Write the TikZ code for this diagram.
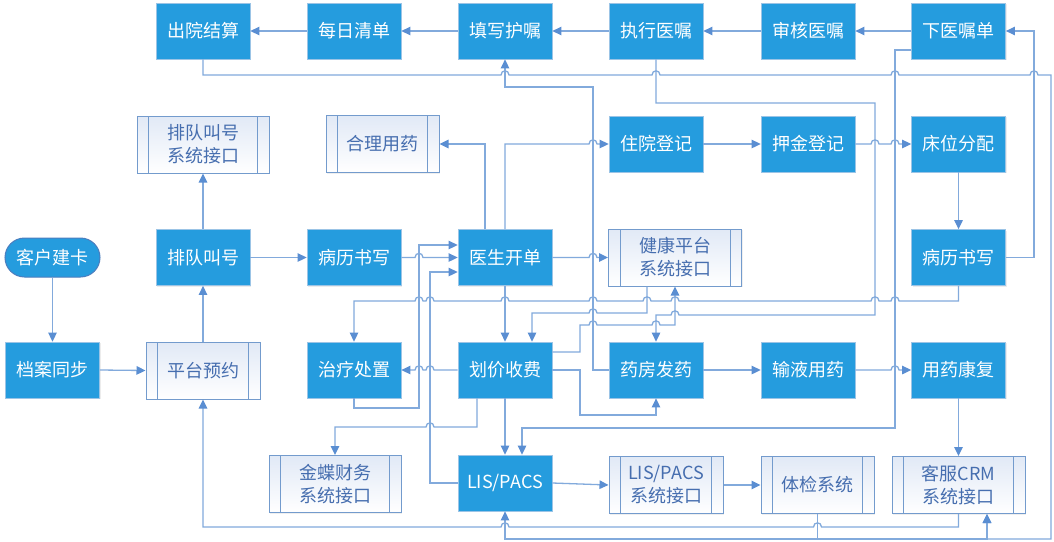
\documentclass[tikz,border=0pt]{standalone}
\usepackage{fontspec}
\newfontfamily\cn{Noto Sans CJK SC}
\usetikzlibrary{arrows.meta,shadows}
\definecolor{boxblue}{RGB}{37,156,222}
\definecolor{boxedge}{RGB}{155,196,230}
\definecolor{linec}{RGB}{130,170,220}
\definecolor{arrc}{RGB}{90,142,210}
\definecolor{subedge}{RGB}{115,155,205}
\definecolor{subtext}{RGB}{70,110,175}
\definecolor{subtop}{RGB}{225,233,246}
\definecolor{pilledge}{RGB}{75,125,190}
% horizontal line hops (rightward / leftward)
\newcommand\hr[2]{-- ({#1-4},#2) .. controls ({#1-4},{#2-5.5}) and ({#1+4},{#2-5.5}) .. ({#1+4},#2)}
\newcommand\hl[2]{-- ({#1+4},#2) .. controls ({#1+4},{#2-5.5}) and ({#1-4},{#2-5.5}) .. ({#1-4},#2)}
\tikzset{
 base/.style={font=\cn\fontsize{18}{23}\selectfont, align=center, inner sep=0pt},
 bbox/.style={base, rectangle, fill=boxblue, draw=boxedge, line width=0.8pt, text=white,
   minimum width=94pt, minimum height=56pt,
   drop shadow={opacity=0.15,shadow xshift=1pt,shadow yshift=-1pt}},
 sbox/.style={base, rectangle, draw=subedge, line width=1pt, text=subtext,
   top color=subtop, bottom color=white, minimum height=57pt, minimum width=#1,
   drop shadow={opacity=0.12,shadow xshift=1pt,shadow yshift=-1pt},
   path picture={\draw[subedge, line width=1pt]
     ([xshift=11.5pt]path picture bounding box.north west) -- ([xshift=11.5pt]path picture bounding box.south west)
     ([xshift=-11.5pt]path picture bounding box.north east) -- ([xshift=-11.5pt]path picture bounding box.south east);}},
 pill/.style={base, rectangle, rounded corners=19.5pt, fill=boxblue, draw=pilledge, line width=1pt,
   text=white, minimum width=95pt, minimum height=39pt},
 conn/.style={draw=linec, line width=1.3pt, -{Triangle[length=9pt,width=8.5pt,color=arrc]}},
}
\begin{document}
\begin{tikzpicture}[x=1pt,y=-1pt]
\fill[white] (0,0) rectangle (1054,541);
\useasboundingbox (0,0) rectangle (1054,541);
% row 1
\node[bbox] (cy) at (203,31) {出院结算};
\node[bbox] (mr) at (354,31) {每日清单};
\node[bbox] (tx) at (505,31) {填写护嘱};
\node[bbox] (zx) at (656,31) {执行医嘱};
\node[bbox] (sh) at (808,31) {审核医嘱};
\node[bbox] (xy) at (958.5,31) {下医嘱单};
% row 2
\node[sbox=132pt] (pdjk) at (203,144.5) {排队叫号\\系统接口};
\node[sbox=113pt] (hlyy) at (382.5,144) {合理用药};
\node[bbox] (zy) at (656,144) {住院登记};
\node[bbox] (yj) at (808,144) {押金登记};
\node[bbox] (cw) at (958.5,144) {床位分配};
% row 3
\node[pill] (khjk) at (52.5,257.5) {客户建卡};
\node[bbox] (pd) at (203,257.5) {排队叫号};
\node[bbox] (bl1) at (354,257.5) {病历书写};
\node[bbox] (ys) at (505,257.5) {医生开单};
\node[sbox=133pt] (jk) at (675,257.5) {健康平台\\系统接口};
\node[bbox] (bl2) at (958.5,257.5) {病历书写};
% row 4
\node[bbox] (da) at (52.5,370) {档案同步};
\node[sbox=114pt] (ptyy) at (203,370.5) {平台预约};
\node[bbox] (zl) at (354,370) {治疗处置};
\node[bbox] (hj) at (505,370) {划价收费};
\node[bbox] (yf) at (656,370) {药房发药};
\node[bbox] (sy) at (808,370) {输液用药};
\node[bbox] (yykf) at (958.5,370) {用药康复};
% row 5
\node[sbox=132pt] (jd) at (335,484) {金蝶财务\\系统接口};
\node[bbox] (lis) at (505,483) {LIS/PACS};
\node[sbox=114pt] (lisjk) at (666,485) {LIS/PACS\\系统接口};
\node[sbox=113pt] (tj) at (817.5,485) {体检系统};
\node[sbox=133pt] (crm) at (958.5,485) {客服CRM\\系统接口};

% ---- connectors ----
\draw[conn] (khjk.south) -- (da.north);
\draw[conn] (da.east) -- (ptyy.west);
\draw[conn] (ptyy.north) -- (pd.south);
\draw[conn] (pd.north) -- (pdjk.south);
\draw[conn] (pd.east) -- (bl1.west);
\draw[conn] (bl1.east) \hr{419}{257.5} -- (ys.west);
\draw[conn] (zl.south) -- (354,408) -- (419,408) -- (419,245) -- ([yshift=12.5pt]ys.west);
\draw[conn] (lis.west) -- (430,483) -- (430,272) -- ([yshift=-14.5pt]ys.west);
\draw[conn] ([xshift=-20pt]ys.north) -- (485,144) -- (hlyy.east);
\draw[conn] (ys.north) -- (505,144) \hr{593}{144} -- (zy.west);
\draw[conn] (ys.east) \hr{593}{257.5} -- (jk.west);
\draw[conn] (ys.south) -- (hj.north);
\draw[conn] (hj.west) \hl{430}{370} \hl{419}{370} -- (zl.east);
\draw[conn] ([xshift=-28pt]hj.south) -- (477,427) \hl{430}{427} -- (335,427) -- (jd.north);
\draw[conn] (hj.south) -- (lis.north);
\draw[conn] ([yshift=18pt]hj.east) -- (580,352) -- (580,325) \hr{593}{325} \hr{656}{325} -- (675,325) -- (jk.south);
\draw[conn] (hj.east) -- (580,370) -- (580,415) -- (656,415) -- (yf.south);
\draw[conn] ([xshift=-28pt]jk.south) -- (647,313) \hl{593}{313} -- (532,313) -- ([xshift=27pt]hj.north);
\draw[conn] (zx.south) -- (656,103) -- (875,103) -- (875,315) \hl{675}{315} -- (656,315) -- (yf.north);
\draw[conn] (yf.west) -- (593,370) -- (593,87) -- (505,87) -- (tx.south);
\draw[conn] (yf.east) -- (sy.west);
\draw[conn] (sy.east) \hr{895}{370} -- (yykf.west);
\draw[conn] (yykf.south) -- (crm.north);
\draw[conn] (zy.east) -- (yj.west);
\draw[conn] (yj.east) \hr{875}{144} \hr{895}{144} -- (cw.west);
\draw[conn] (cw.south) -- (bl2.north);
\draw[conn] (bl2.east) -- (1034,257.5) -- (1034,31) -- (xy.east);
\draw[conn] (bl2.south) -- (958.5,301) \hl{895}{301} \hl{875}{301} \hl{675}{301} \hl{647}{301} \hl{593}{301} \hl{505}{301} \hl{430}{301} \hl{419}{301} -- (354,301) -- (zl.north);
\draw[conn] ([yshift=-19pt]xy.west) -- (895,50) -- (895,428) -- (522,428) -- ([xshift=17pt]lis.north);
\draw[conn] (xy.west) -- (sh.east);
\draw[conn] (sh.west) -- (zx.east);
\draw[conn] (zx.west) -- (tx.east);
\draw[conn] (tx.west) -- (mr.east);
\draw[conn] (mr.west) -- (cy.east);
\draw[conn] (cy.south) -- (203,75) \hr{505}{75} \hr{656}{75} \hr{895}{75} \hr{1034}{75} -- (1051,75) -- (1051,539) -- (987,539) -- ([xshift=28.5pt]crm.south);
\draw[conn] (crm.south) -- (958.5,527) \hl{817.5}{527} \hl{505}{527} -- (203,527) -- (ptyy.south);
\draw[conn] (tj.south) -- (817.5,539) -- (505,539) -- (lis.south);
\draw[conn] (tj.south) -- (817.5,539) -- (987,539) -- ([xshift=28.5pt]crm.south);
\draw[conn] (lis.east) -- (lisjk.west);
\draw[conn] (lisjk.east) -- (tj.west);
\end{tikzpicture}
\end{document}
